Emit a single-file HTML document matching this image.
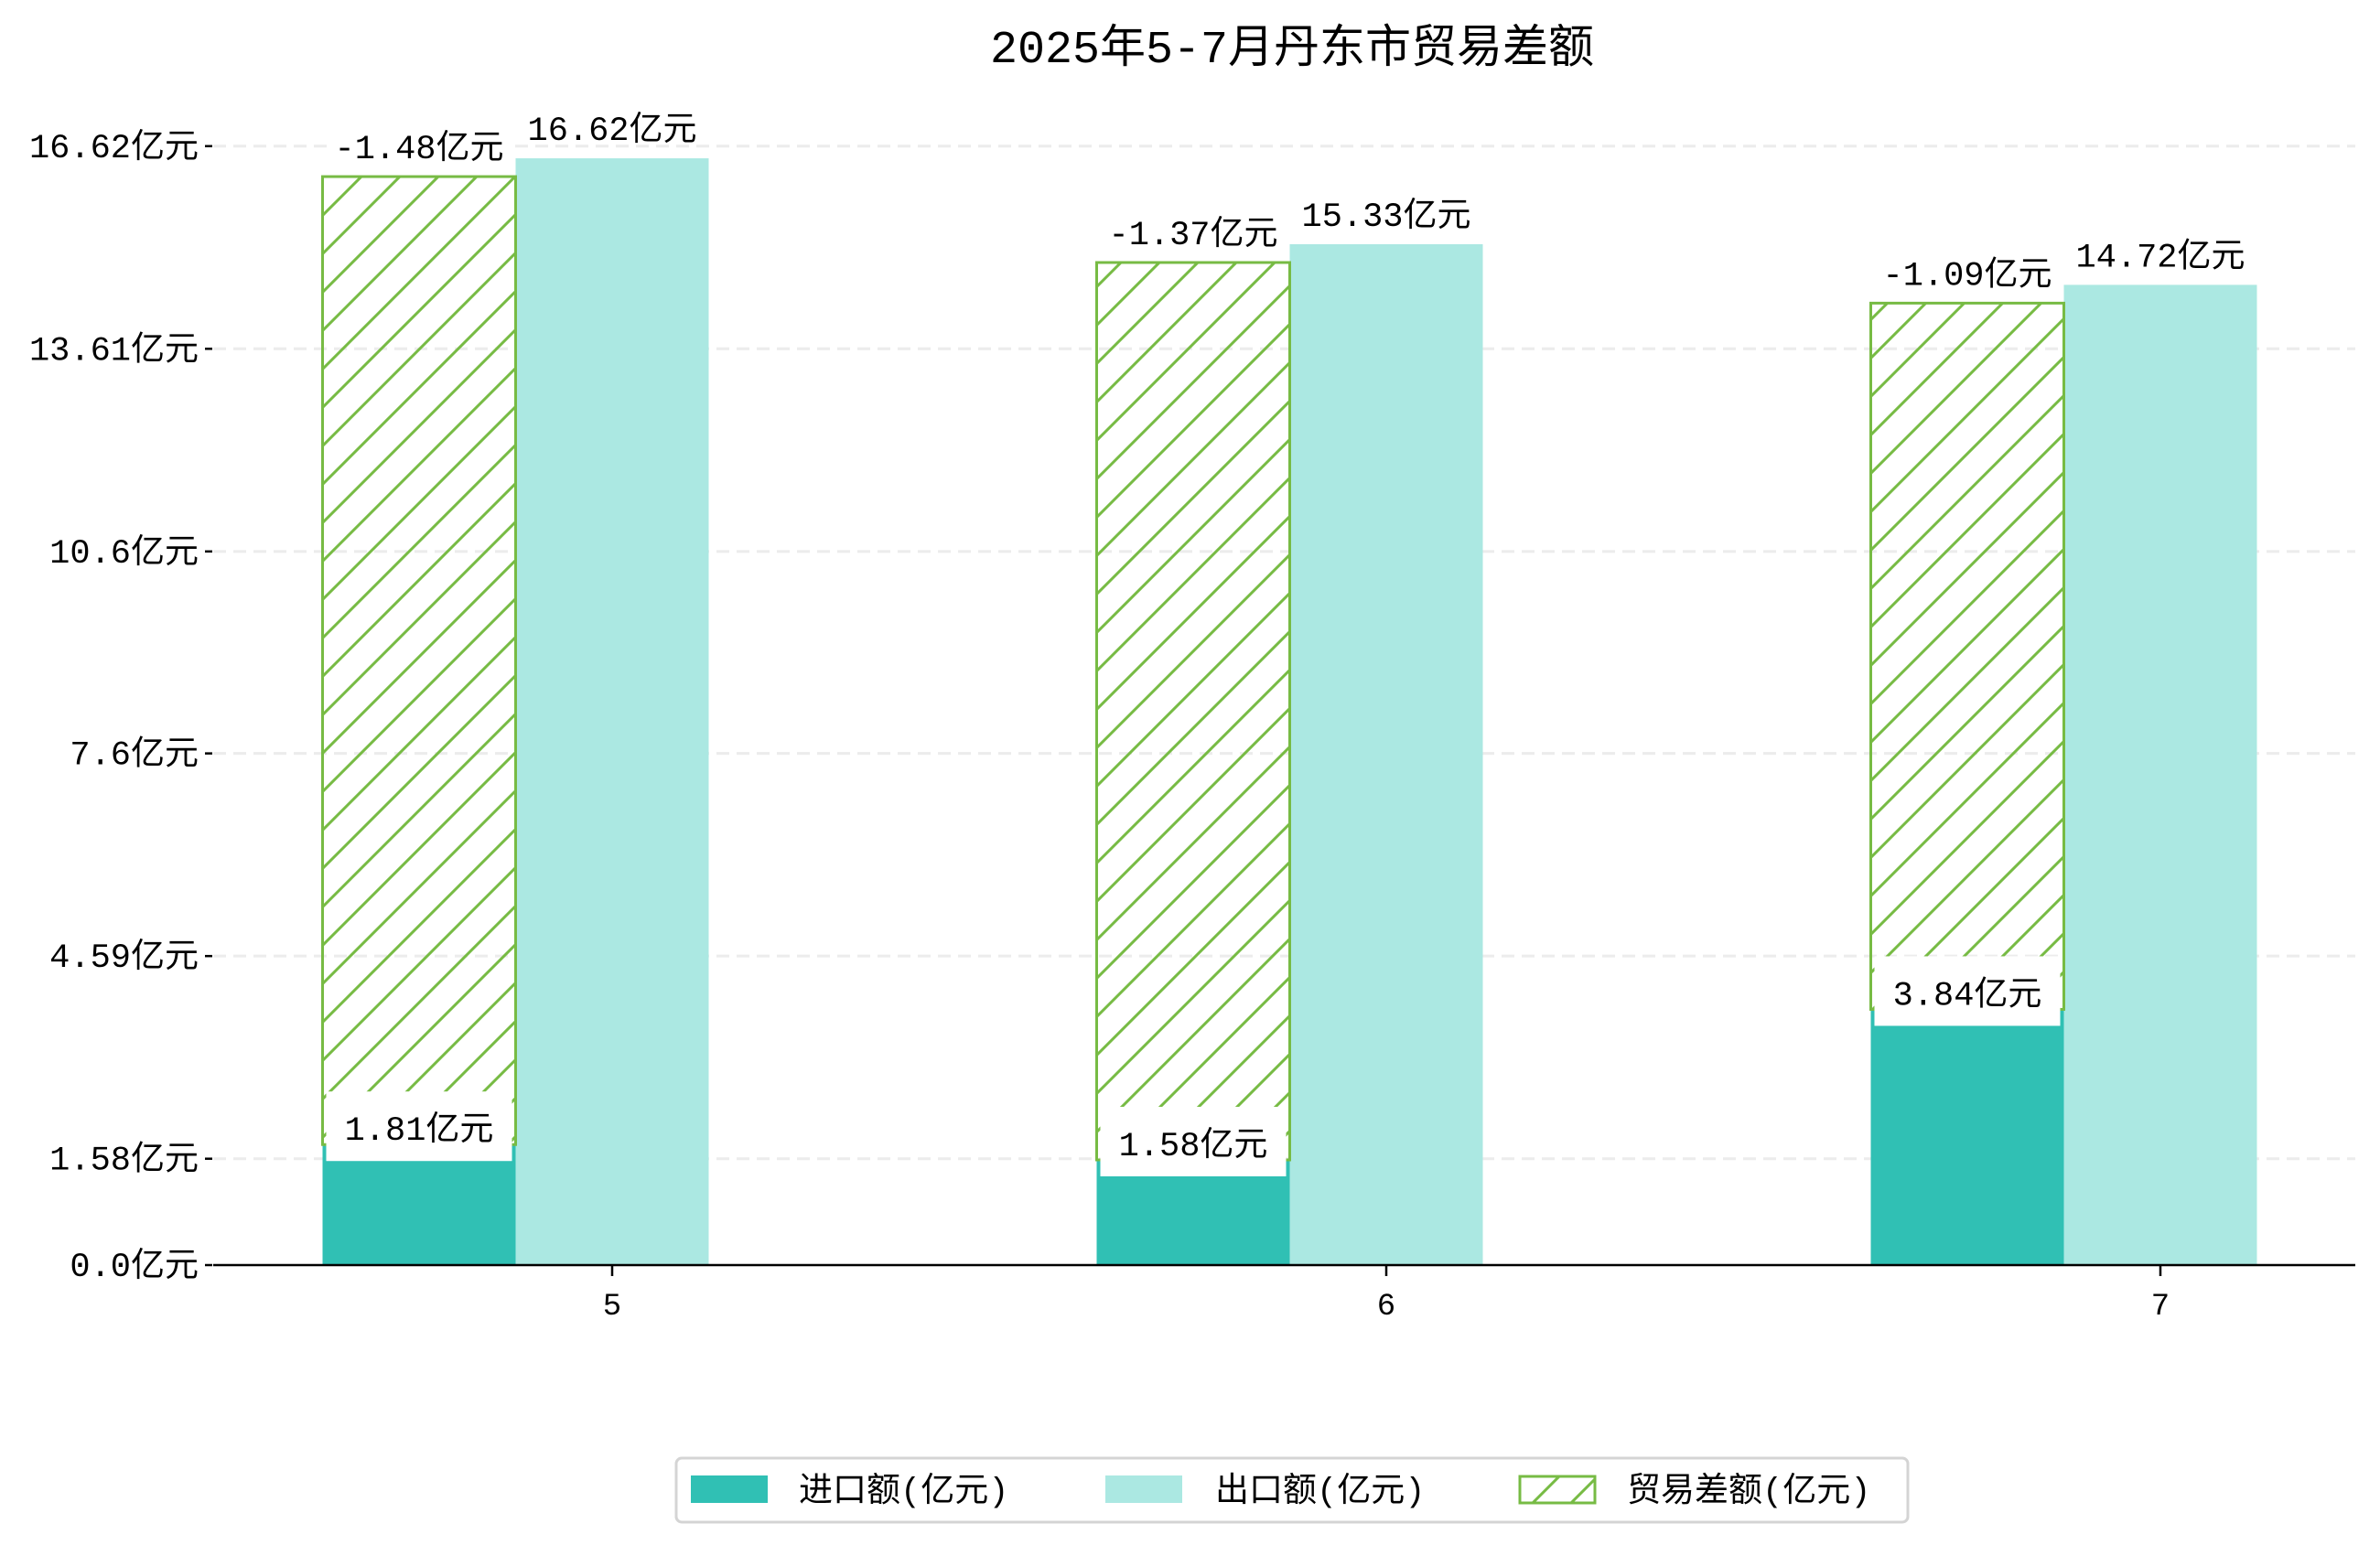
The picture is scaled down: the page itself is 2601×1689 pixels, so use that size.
<!DOCTYPE html>
<html><head><meta charset="utf-8">
<style>
html,body{margin:0;padding:0;background:#fff;}
svg{display:block;}
text{font-family:"Liberation Mono","WenQuanYi Zen Hei","Noto Sans CJK SC",monospace;fill:#000;}
</style></head>
<body>
<svg id="chart" width="2601" height="1689" viewBox="0 0 2601 1689" xmlns="http://www.w3.org/2000/svg">
<defs>
<pattern id="hatch" patternUnits="userSpaceOnUse" width="42" height="42">
<path d="M-10,52 L52,-10 M-31,31 L31,-31 M11,73 L73,11" stroke="#77bb44" stroke-width="3"/>
</pattern>
</defs>
<text x="1412" y="68" font-size="50" text-anchor="middle">2025年5-7月丹东市贸易差额</text>
<g id="grid"></g>
<g id="bars"></g>
<g id="axes"></g>
<g id="labels"></g>
<g id="legend">
<rect x="739" y="1594" width="1346" height="70" rx="6" fill="#fff" stroke="#d4d4d4" stroke-width="3"/>
<rect x="755" y="1613" width="84" height="30" fill="#30c0b4"/>
<text x="873" y="1641" font-size="37">进口额(亿元)</text>
<rect x="1208" y="1613" width="84" height="30" fill="#abe8e2"/>
<text x="1328" y="1641" font-size="37">出口额(亿元)</text>
<rect x="1661" y="1614" width="82" height="29" fill="url(#hatch)" stroke="#77bb44" stroke-width="3"/>
<text x="1778" y="1641" font-size="37">贸易差额(亿元)</text>
</g>
</svg>
<script>
const categories = ["5", "6", "7"];
const importValues = [1.81, 1.58, 3.84];
const exportValues = [16.62, 15.33, 14.72];
const balanceValues = [-1.48, -1.37, -1.09];
const yTickValues = [0.0, 1.58, 4.59, 7.6, 10.6, 13.61, 16.62];
const yTickLabels = ["0.0亿元", "1.58亿元", "4.59亿元", "7.6亿元", "10.6亿元", "13.61亿元", "16.62亿元"];

const NS = "http://www.w3.org/2000/svg";
const axisY = 1383, axisLeft = 233, axisRight = 2574;
const firstTick = 669, catStep = 846, barW = 211;
function xScale(i){ return firstTick + i * catStep; }
function yTick(v){ return axisY - v * 73.6; }
function yBar(v){ return axisY - v * 72.8; }
function mk(tag, attrs, parent){
  const e = document.createElementNS(NS, tag);
  for (const k in attrs) e.setAttribute(k, attrs[k]);
  parent.appendChild(e);
  return e;
}
const grid = document.getElementById("grid");
const bars = document.getElementById("bars");
const axes = document.getElementById("axes");
const labels = document.getElementById("labels");

yTickValues.forEach((v, i) => {
  const y = yTick(v);
  if (i > 0) {
    const g = mk("line", {x1: axisLeft, x2: axisRight, y1: y, y2: y, stroke: "#ececec", "stroke-width": 3, "stroke-dasharray": "14,8"}, grid);
    
    
  }
  const t = mk("line", {x1: axisLeft - 9, x2: axisLeft - 1, y1: y, y2: y, stroke: "#000", "stroke-width": 2.5}, axes);
  
  
  const l = mk("text", {x: 217, y: y + 12, "font-size": 37, "text-anchor": "end"}, axes);
  l.textContent = yTickLabels[i];
  
  
});

const ax = mk("line", {x1: axisLeft, x2: axisRight, y1: axisY, y2: axisY, stroke: "#000", "stroke-width": 2.5}, axes);



categories.forEach((c, i) => {
  const cx = xScale(i);
  const impX = cx - 1.5 * barW, expX = cx - 0.5 * barW;
  const impTop = yBar(importValues[i]);
  const expTop = yBar(exportValues[i]);
  const hatchTop = expTop + 20;

  const ib = mk("rect", {x: impX, y: impTop, width: barW, height: axisY - impTop, fill: "#30c0b4"}, bars);
  
  

  const eb = mk("rect", {x: expX, y: expTop, width: barW, height: axisY - expTop, fill: "#abe8e2"}, bars);
  
  

  const hb = mk("rect", {x: impX, y: hatchTop, width: barW, height: impTop - hatchTop, fill: "url(#hatch)", stroke: "#77bb44", "stroke-width": 3}, bars);
  
  

  const bbg = mk("rect", {x: impX + 5, y: hatchTop - 60, width: barW - 10, height: 58, fill: "#fff"}, labels);
  
  
  const bl = mk("text", {x: impX + barW / 2, y: hatchTop - 20, "font-size": 37, "text-anchor": "middle"}, labels);
  bl.textContent = balanceValues[i].toFixed(2) + "亿元";
  
  

  const el = mk("text", {x: cx, y: expTop - 20, "font-size": 37, "text-anchor": "middle"}, labels);
  el.textContent = exportValues[i].toFixed(2) + "亿元";
  
  

  const ibg = mk("rect", {x: impX + 4, y: impTop - 58, width: barW - 8, height: 76, fill: "#fff"}, labels);
  
  
  const il = mk("text", {x: impX + barW / 2, y: impTop - 5, "font-size": 37, "text-anchor": "middle"}, labels);
  il.textContent = importValues[i].toFixed(2) + "亿元";
  
  

  const xt = mk("line", {x1: cx, x2: cx, y1: axisY, y2: axisY + 12, stroke: "#000", "stroke-width": 2.5}, axes);
  
  
  const xl = mk("text", {x: cx, y: axisY + 54, "font-size": 34, "text-anchor": "middle"}, axes);
  xl.textContent = c;
  
  
});
</script>
</body></html>
